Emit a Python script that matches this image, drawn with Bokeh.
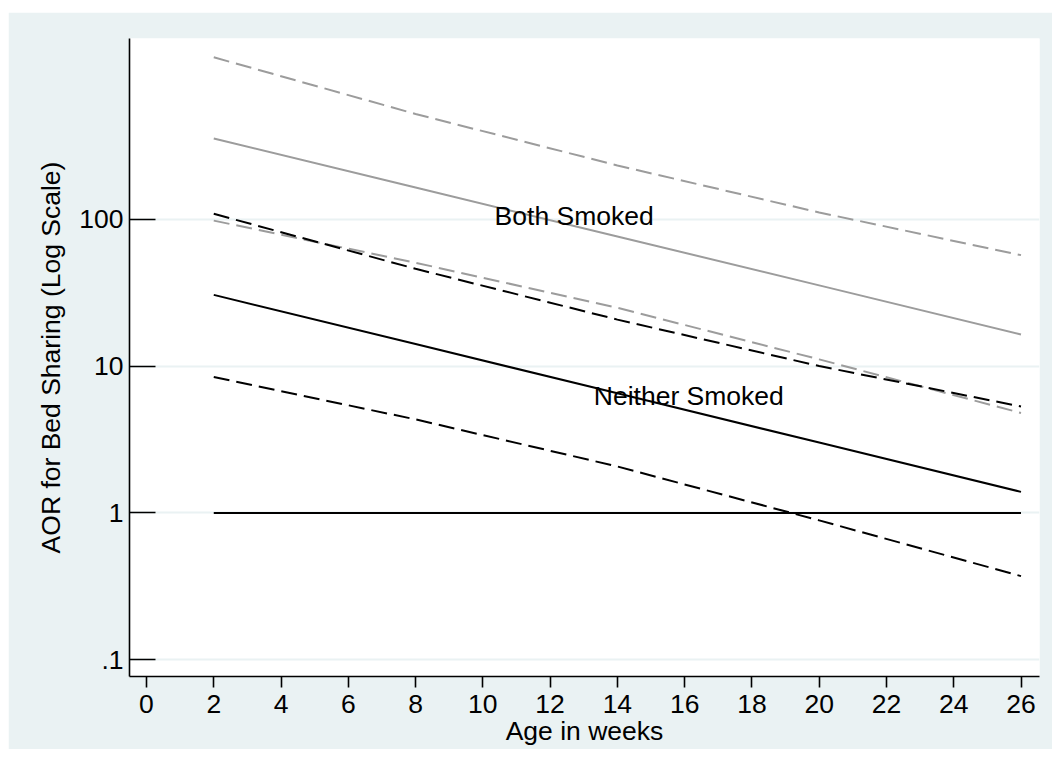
from bokeh.plotting import figure
from bokeh.models import Range1d, FixedTicker, Spacer
from bokeh.layouts import column, row
from bokeh.core.properties import value
from bokeh.embed import file_html
from bokeh.resources import INLINE

# Adjusted odds ratios for bed sharing by infant age (weeks), with 95% CI bounds
weeks = [2, 8, 14, 20, 26]
neither_aor = [30.5, 14.1, 6.52, 3.01, 1.39]
neither_lo = [8.41, 4.33, 2.07, 0.889, 0.371]
neither_hi = [108.7, 45.9, 20.7, 10.0, 5.30]
both_aor = [354, 164, 76.2, 35.4, 16.4]
both_lo = [97.7, 50.5, 24.9, 11.1, 4.79]
both_hi = [1265, 520, 232, 111, 56.9]
reference = [1, 1, 1, 1, 1]

x_ticks = list(range(0, 27, 2))
y_ticks = [0.1, 1, 10, 100]
y_tick_labels = [".1", "1", "10", "100"]
y_minor_ticks = [m * d for d in (0.1, 1, 10) for m in range(2, 10)]

label_x = [10.35, 13.3]
label_y = [105, 6.2]
label_text = ["Both Smoked", "Neither Smoked"]

FONT = "Liberation Sans"
SIZE = "26.5px"
BG = "#eaf2f3"
GRAY = "#9c9c9c"

p = figure(
    width=1044, height=737,
    x_range=Range1d(-0.505, 26.55),
    y_range=Range1d(0.0769, 1698),
    y_axis_type="log",
    output_backend="svg",
    toolbar_location=None,
    min_border_left=121, min_border_right=13,
    min_border_top=26, min_border_bottom=73,
)
p.background_fill_color = "white"
p.border_fill_color = BG
p.outline_line_color = None

# reference line and the two groups' estimates with confidence bounds
p.line(weeks, reference, line_color="black", line_width=2)
p.line(weeks, both_hi, line_color=GRAY, line_width=2, line_dash="16 7")
p.line(weeks, both_aor, line_color=GRAY, line_width=2)
p.line(weeks, both_lo, line_color=GRAY, line_width=2, line_dash="16 7")
p.line(weeks, neither_hi, line_color="black", line_width=2, line_dash="16 7")
p.line(weeks, neither_aor, line_color="black", line_width=2)
p.line(weeks, neither_lo, line_color="black", line_width=2, line_dash="16 7")

p.text(x=label_x, y=label_y, text=label_text,
       text_font=value(FONT), text_font_size=SIZE, text_color="black",
       text_align="left", text_baseline="middle")

# y axis: log scale, ticks pointing into the plot
yt = FixedTicker(ticks=y_ticks, minor_ticks=y_minor_ticks)
p.yaxis.ticker = yt
p.ygrid.ticker = yt
p.yaxis.major_label_overrides = dict(zip(y_ticks, y_tick_labels))
p.yaxis.axis_label = "AOR for Bed Sharing (Log Scale)"
p.yaxis.major_tick_in = 26
p.yaxis.major_tick_out = 0
p.yaxis.minor_tick_in = 10
p.yaxis.minor_tick_out = 0
p.yaxis.major_label_standoff = 6
p.yaxis.axis_label_standoff = 10

# x axis
p.xaxis.ticker = FixedTicker(ticks=x_ticks)
p.xaxis.axis_label = "Age in weeks"
p.xaxis.major_tick_in = 0
p.xaxis.major_tick_out = 11
p.xaxis.minor_tick_line_color = None
p.xaxis.major_label_standoff = 7
p.xaxis.axis_label_standoff = 0

for ax in (p.xaxis, p.yaxis):
    ax.axis_line_color = "black"
    ax.axis_line_width = 1.6
    ax.major_tick_line_color = "black"
    ax.major_tick_line_width = 1.6
    ax.minor_tick_line_color = "black" if ax is p.yaxis else None
    ax.minor_tick_line_width = 1.4
    ax.major_label_text_font = FONT
    ax.major_label_text_font_size = SIZE
    ax.major_label_text_color = "black"
    ax.axis_label_text_font = FONT
    ax.axis_label_text_font_size = SIZE
    ax.axis_label_text_font_style = "normal"
    ax.axis_label_text_color = "black"

p.xgrid.visible = False
p.ygrid.grid_line_color = BG
p.ygrid.grid_line_width = 2

layout = column(Spacer(height=12), row(Spacer(width=8), p))

open("out.html", "w").write(file_html(layout, INLINE))
